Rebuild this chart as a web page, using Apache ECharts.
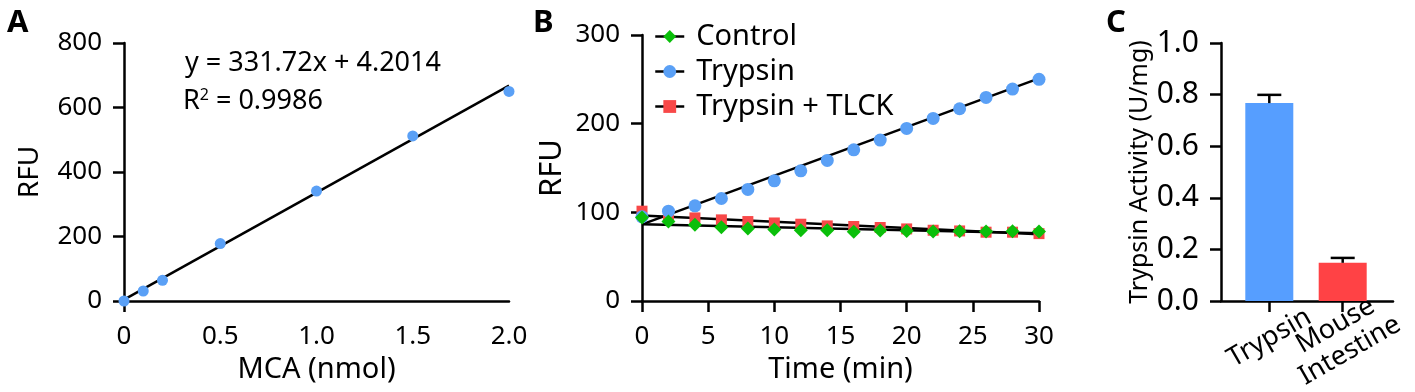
<!DOCTYPE html>
<html><head><meta charset="utf-8">
<script src="https://cdn.jsdelivr.net/npm/echarts@6/dist/echarts.min.js"></script>
<style>html,body{margin:0;padding:0;background:#fff}#c{width:1415px;height:392px}</style>
</head><body><div id="c"></div>
<script>
// ---------- Panel A: MCA standard curve ----------
const mcaNmol = [0, 0.1, 0.2, 0.5, 1.0, 1.5, 2.0];
const mcaRFU = [0, 31, 64, 178, 341, 512, 650];
const mcaFitX = [0, 2.0];
const mcaFitY = [4.2014, 667.64];
// ---------- Panel B: kinetics ----------
const timeMin = [0, 2, 4, 6, 8, 10, 12, 14, 16, 18, 20, 22, 24, 26, 28, 30];
const controlRFU = [94.1, 89.6, 85.9, 83.2, 81.7, 80.6, 79.8, 79.8, 78.2, 79.6, 79.0, 78.4, 78.8, 78.3, 78.6, 78.3];
const trypsinRFU = [94.9, 101.3, 107.3, 115.6, 125.8, 135.5, 146.8, 158.5, 170.5, 181.5, 194.6, 205.9, 216.8, 229.6, 239.0, 250.0];
const tlckRFU = [101.3, 94.9, 93.7, 91.5, 89.6, 88.0, 86.6, 84.7, 84.0, 82.9, 81.3, 79.8, 79.0, 77.6, 77.6, 76.0];
const fitTime = [0, 30];
const controlFit = [86.5, 76.5];
const trypsinFit = [86.5, 251];
const tlckFit = [96.4, 75.3];
const seriesNamesB = ['Control', 'Trypsin', 'Trypsin + TLCK'];
// ---------- Panel C: activity ----------
const groupsC = ['Trypsin', 'Mouse\nIntestine'];
const activity = [0.767, 0.148];
const activitySD = [0.032, 0.019];

const FONT = 'Noto Sans';
const BLUE = '#5aa0f6', GREEN = '#0abf0a', RED = '#f84848';
const BAR_COLORS = ['#569eff', '#ff4245'];
const AX = {color: '#000', width: 2.5};

const pair = (xs, ys) => xs.map((x, i) => [x, ys[i]]);

function yAxisBase(grid, min, max, interval, name, gap, nameSize, labelSize, fmt) {
  return {
    type: 'value', gridIndex: grid, min, max, interval,
    name, nameLocation: 'middle', nameGap: gap,
    nameTextStyle: {fontSize: nameSize, color: '#000', fontFamily: FONT},
    axisLine: {show: true, lineStyle: AX},
    axisTick: {show: true, length: 11, lineStyle: AX},
    axisLabel: {fontSize: labelSize, color: '#000', fontFamily: FONT, margin: 22, formatter: fmt},
    splitLine: {show: false}
  };
}

const option = {
  animation: false,
  textStyle: {fontFamily: FONT, color: '#000'},
  grid: [
    {left: 124, top: 43, width: 385, height: 258, outerBoundsMode: 'none'},
    {left: 642, top: 35, width: 397, height: 266, outerBoundsMode: 'none'},
    {left: 1221, top: 43, width: 172, height: 258, outerBoundsMode: 'none'},
    {left: 1232.6, top: 43, width: 146.8, height: 258, outerBoundsMode: 'none'}
  ],
  xAxis: [
    {
      type: 'value', gridIndex: 0, min: 0, max: 2, interval: 0.5,
      name: 'MCA (nmol)', nameLocation: 'middle', nameGap: 53,
      nameTextStyle: {fontSize: 29, color: '#000', fontFamily: FONT},
      axisLine: {show: true, lineStyle: AX},
      axisTick: {show: false},
      axisLabel: {fontSize: 26, color: '#000', fontFamily: FONT, margin: 23,
        formatter: v => v === 0 ? '0' : v.toFixed(1)},
      splitLine: {show: false}
    },
    {
      type: 'value', gridIndex: 1, min: 0, max: 30, interval: 5,
      name: 'Time (min)', nameLocation: 'middle', nameGap: 53,
      nameTextStyle: {fontSize: 29, color: '#000', fontFamily: FONT},
      axisLine: {show: true, lineStyle: AX},
      axisTick: {show: true, length: 11, lineStyle: AX},
      axisLabel: {fontSize: 26, color: '#000', fontFamily: FONT, margin: 23},
      splitLine: {show: false}
    },
    // C: visible axis line spanning the full plot width
    {
      type: 'value', gridIndex: 2, min: 0, max: 1,
      axisLine: {show: true, lineStyle: AX},
      axisTick: {show: false}, axisLabel: {show: false}, splitLine: {show: false}
    },
    // C: category axis for bars, ticks and labels
    {
      type: 'category', gridIndex: 3, data: groupsC, boundaryGap: true, position: 'bottom',
      axisLine: {show: false},
      axisTick: {show: true, alignWithLabel: true, length: 11, lineStyle: AX},
      axisLabel: {interval: 0, fontSize: 27, color: '#000', fontFamily: FONT,
        rotate: 30, align: 'center', verticalAlign: 'middle', margin: 37, lineHeight: 29},
      splitLine: {show: false}
    },
    // A: tick only at x = 0 (extension of the y axis below the x axis)
    {
      type: 'category', gridIndex: 0, data: ['0', '2.0'], boundaryGap: false, position: 'bottom',
      axisLine: {show: false}, axisLabel: {show: false}, splitLine: {show: false},
      axisTick: {show: true, length: 11, lineStyle: AX, interval: (i) => i === 0}
    }
  ],
  yAxis: [
    yAxisBase(0, 0, 800, 200, 'RFU', 80, 28, 26),
    yAxisBase(1, 0, 300, 100, 'RFU', 74, 31, 26),
    yAxisBase(2, 0, 1.0, 0.2, 'Trypsin Activity (U/mg)', 66, 25, 30, v => v.toFixed(1)),
    {type: 'value', gridIndex: 3, min: 0, max: 1.0, show: false}
  ],
  legend: {
    orient: 'vertical', left: 654, top: 22, padding: 0, itemWidth: 29, itemHeight: 16, itemGap: 6,
    formatter: '{t|{name}}',
    textStyle: {fontSize: 29, color: '#000', fontFamily: FONT,
      rich: {t: {fontSize: 29, color: '#000', fontFamily: FONT, padding: [0, 0, 0, 7]}}},
    lineStyle: {color: '#000', width: 2.5, opacity: 1},
    data: seriesNamesB
  },
  graphic: [
    {type: 'text', left: 7, top: 8, style: {text: 'A', font: 'bold 31px "Noto Sans"', fill: '#000'}},
    {type: 'text', left: 533, top: 8, style: {text: 'B', font: 'bold 31px "Noto Sans"', fill: '#000'}},
    {type: 'text', left: 1106, top: 8, style: {text: 'C', font: 'bold 31px "Noto Sans"', fill: '#000'}},
    {type: 'text', x: 185, y: 63, style: {text: 'y = 331.72x + 4.2014', fontSize: 27, fontFamily: FONT, fill: '#000', verticalAlign: 'middle'}},
    {type: 'text', x: 183, y: 101, style: {text: 'R{s|2} = 0.9986', fontSize: 27, fontFamily: FONT, fill: '#000', verticalAlign: 'middle',
      rich: {s: {fontSize: 16, fontFamily: FONT, fill: '#000', verticalAlign: 'top'}}}}
  ],
  series: [
    // Panel A
    {type: 'line', name: 'fitA', xAxisIndex: 0, yAxisIndex: 0, data: pair(mcaFitX, mcaFitY),
      showSymbol: false, lineStyle: {color: '#000', width: 2.5}, silent: true, z: 2},
    {type: 'scatter', name: 'MCA', xAxisIndex: 0, yAxisIndex: 0, data: pair(mcaNmol, mcaRFU),
      symbol: 'circle', symbolSize: 11, itemStyle: {color: BLUE, opacity: 1}, silent: true, z: 3},
    // Panel B fit lines
    {type: 'line', name: 'fitControl', xAxisIndex: 1, yAxisIndex: 1, data: pair(fitTime, controlFit),
      showSymbol: false, lineStyle: {color: '#000', width: 2.5}, silent: true, z: 2},
    {type: 'line', name: 'fitTrypsin', xAxisIndex: 1, yAxisIndex: 1, data: pair(fitTime, trypsinFit),
      showSymbol: false, lineStyle: {color: '#000', width: 2.5}, silent: true, z: 2},
    {type: 'line', name: 'fitTLCK', xAxisIndex: 1, yAxisIndex: 1, data: pair(fitTime, tlckFit),
      showSymbol: false, lineStyle: {color: '#000', width: 2.5}, silent: true, z: 2},
    // Panel B points
    {type: 'line', name: seriesNamesB[2], xAxisIndex: 1, yAxisIndex: 1, data: pair(timeMin, tlckRFU),
      symbol: 'rect', symbolSize: 11, showAllSymbol: true, itemStyle: {color: RED},
      lineStyle: {opacity: 0, color: '#000'}, silent: true, z: 3},
    {type: 'line', name: seriesNamesB[1], xAxisIndex: 1, yAxisIndex: 1, data: pair(timeMin, trypsinRFU),
      symbol: 'circle', symbolSize: 13, showAllSymbol: true, itemStyle: {color: BLUE},
      lineStyle: {opacity: 0, color: '#000'}, silent: true, z: 4},
    {type: 'line', name: seriesNamesB[0], xAxisIndex: 1, yAxisIndex: 1, data: pair(timeMin, controlRFU),
      symbol: 'diamond', symbolSize: 14, showAllSymbol: true, itemStyle: {color: GREEN},
      lineStyle: {opacity: 0, color: '#000'}, silent: true, z: 5},
    // Panel C
    {type: 'bar', name: 'activity', xAxisIndex: 3, yAxisIndex: 3, barWidth: 48,
      data: activity.map((v, i) => ({value: v, itemStyle: {color: BAR_COLORS[i]}})), silent: true, z: 2},
    {type: 'custom', name: 'sd', xAxisIndex: 3, yAxisIndex: 3, silent: true, z: 3,
      data: activity.map((v, i) => [i, v, v + activitySD[i]]),
      renderItem: (params, api) => {
        const x = api.value(0);
        const base = api.coord([x, api.value(1)]);
        const top = api.coord([x, api.value(2)]);
        const hw = 12;
        const st = {stroke: '#000', lineWidth: 2.5};
        return {type: 'group', children: [
          {type: 'line', shape: {x1: base[0], y1: base[1], x2: top[0], y2: top[1]}, style: st},
          {type: 'line', shape: {x1: top[0] - hw, y1: top[1], x2: top[0] + hw, y2: top[1]}, style: st}
        ]};
      }}
  ]
};
const chart = echarts.init(document.getElementById('c'));
chart.setOption(option);
</script></body></html>
